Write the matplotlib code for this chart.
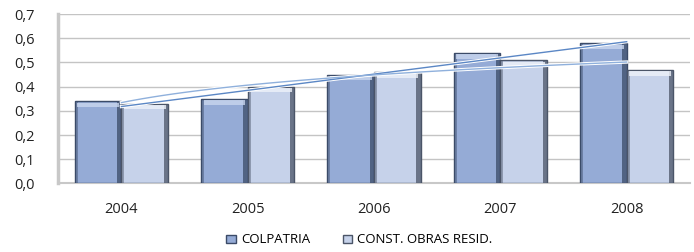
import matplotlib
matplotlib.use("Agg")
import matplotlib.pyplot as plt
import numpy as np

years = ["2004", "2005", "2006", "2007", "2008"]
colpatria = [0.34, 0.35, 0.45, 0.54, 0.58]
const_obras = [0.33, 0.40, 0.46, 0.51, 0.47]
yticks = [0.0, 0.1, 0.2, 0.3, 0.4, 0.5, 0.6, 0.7]
ytick_labels = ["0,0", "0,1", "0,2", "0,3", "0,4", "0,5", "0,6", "0,7"]

plt.rcParams['font.family'] = ['Open Sans', 'DejaVu Sans']

fig = plt.figure(figsize=(6.94, 2.52), dpi=100)
ax = fig.add_axes([0.084, 0.272, 0.910, 0.672])

x = np.arange(len(years))
w = 0.37
c1 = '#95abd6'
c2 = '#c6d2ea'


def bevel_bars(pos, vals, face, dark, light, label):
    vals = np.asarray(vals)
    ax.bar(pos, vals, w, color=face, edgecolor=dark, linewidth=1.0, label=label, zorder=3)
    sw = 0.035
    # right dark strip
    ax.bar(pos + w/2 - sw/2, vals, sw, color=dark, alpha=0.75, linewidth=0, zorder=3.1)
    # left dark thin strip
    ax.bar(pos - w/2 + sw/3, vals, sw/1.5, color=dark, alpha=0.45, linewidth=0, zorder=3.1)
    # top highlight
    ax.bar(pos, np.full_like(vals, 0.018), w - 0.04, bottom=vals - 0.024, color=light,
           alpha=0.8, linewidth=0, zorder=3.2)


bevel_bars(x - w/2, colpatria, c1, '#3b4b68', '#c9d6ee', 'COLPATRIA')
bevel_bars(x + w/2, const_obras, c2, '#4b5568', '#eef2fa', 'CONST. OBRAS RESID.')

# trendlines
xs = np.linspace(x[0], x[-1], 50)
p1 = np.polyfit(x, colpatria, 1)
t1 = np.polyval(p1, xs)
p2 = np.polyfit(np.log(x + 1), const_obras, 1)
t2 = np.polyval(p2, np.log(xs + 1))
for t, col in [(t1, '#5b87c5'), (t2, '#8fb0dc')]:
    ax.plot(xs, t, color='white', lw=2.4, zorder=4)
    ax.plot(xs, t, color=col, lw=1.0, zorder=5)

ax.set_ylim(0, 0.7)
ax.set_xlim(-0.5, len(years) - 0.5)
ax.set_yticks(yticks)
ax.set_yticklabels(ytick_labels)
ax.set_xticks(x)
ax.set_xticklabels(years)
ax.tick_params(length=0, labelsize=10.5, colors='#222222')
ax.tick_params(axis='x', pad=13)
ax.tick_params(axis='y', pad=17)
ax.yaxis.grid(True, color='#c4c4c4', linewidth=1.0, zorder=0)
ax.set_axisbelow(True)
for s in ['top', 'right']:
    ax.spines[s].set_visible(False)
ax.spines['left'].set_color('#c8c8c8')
ax.spines['left'].set_linewidth(2.5)
ax.spines['bottom'].set_color('#c8c8c8')
ax.spines['bottom'].set_linewidth(1.5)

leg = fig.legend(loc='center', bbox_to_anchor=(0.518, 0.048), ncol=2, frameon=False,
                 fontsize=9.5, handlelength=0.7, handleheight=0.6, columnspacing=2.5,
                 handletextpad=0.4)

fig.savefig("out.png", dpi=100)
